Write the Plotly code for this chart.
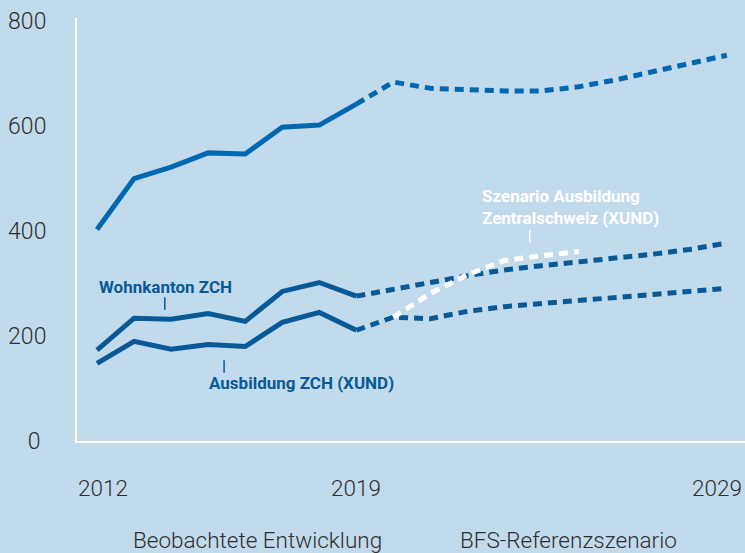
import plotly.graph_objects as go

# ---- data ----
years_obs = [2012, 2013, 2014, 2015, 2016, 2017, 2018, 2019]
years_fc = [2019, 2020, 2021, 2022, 2023, 2024, 2025, 2026, 2027, 2028, 2029]
years_scen = [2020, 2021, 2022, 2023, 2024, 2025]

total_obs = [403, 500, 522, 549, 547, 598, 602, 642]
total_fc = [642, 684, 672, 669, 667, 667, 675, 688, 703, 720, 735]

wohn_obs = [173, 234, 232, 243, 228, 285, 302, 276]
wohn_fc = [276, 290, 302, 315, 326, 334, 341, 348, 356, 365, 377]

ausb_obs = [148, 190, 175, 184, 180, 226, 245, 211]
ausb_fc = [211, 236, 233, 247, 256, 262, 268, 273, 279, 285, 291]

scen = [236, 281, 317, 344, 353, 361]

y_ticks = [0, 200, 400, 600, 800]
y_ticktext = ["0\u2005", "200", "400", "600", "800"]
x_labels = [2012, 2019, 2029]
section_labels = ["Beobachtete Entwicklung", "BFS-Referenzszenario"]

BG = "#c2dbec"
BLUE = "#0068b0"
DARK = "#075a97"
TXT = "#2e2e2e"
FONT = "Roboto"

fig = go.Figure()

dash = "9px,6px"
fig.add_trace(go.Scatter(x=years_fc, y=total_fc, mode="lines",
                         line=dict(color=BLUE, width=5, dash=dash)))
fig.add_trace(go.Scatter(x=years_obs, y=total_obs, mode="lines",
                         line=dict(color=BLUE, width=5)))
fig.add_trace(go.Scatter(x=years_fc, y=wohn_fc, mode="lines",
                         line=dict(color=DARK, width=5, dash=dash)))
fig.add_trace(go.Scatter(x=years_obs, y=wohn_obs, mode="lines",
                         line=dict(color=DARK, width=5)))
fig.add_trace(go.Scatter(x=years_fc, y=ausb_fc, mode="lines",
                         line=dict(color=DARK, width=5, dash=dash)))
fig.add_trace(go.Scatter(x=years_obs, y=ausb_obs, mode="lines",
                         line=dict(color=DARK, width=5)))
fig.add_trace(go.Scatter(x=years_scen, y=scen, mode="lines",
                         line=dict(color="white", width=5, dash=dash)))

# series labels
LBL = 17
fig.add_annotation(x=2012, y=293, xref="x", yref="y", text="<b>Wohnkanton ZCH</b>",
                   showarrow=False, xanchor="left", yanchor="middle",
                   font=dict(family=FONT, size=LBL, color=DARK))
fig.add_shape(type="line", x0=2013.83, x1=2013.83, y0=250, y1=274, xref="x", yref="y",
              line=dict(color=DARK, width=1.5))
fig.add_annotation(x=2014.97, y=110, xref="x", yref="y", text="<b>Ausbildung ZCH (XUND)</b>",
                   showarrow=False, xanchor="left", yanchor="middle",
                   font=dict(family=FONT, size=LBL, color=DARK))
fig.add_shape(type="line", x0=2015.43, x1=2015.43, y0=130, y1=154, xref="x", yref="y",
              line=dict(color=DARK, width=1.5))
fig.add_annotation(x=2022.33, y=446, xref="x", yref="y",
                   text="<b>Szenario Ausbildung<br>Zentralschweiz (XUND)</b>",
                   showarrow=False, xanchor="left", yanchor="middle", align="left",
                   font=dict(family=FONT, size=LBL, color="white"))
fig.add_shape(type="line", x0=2023.68, x1=2023.68, y0=379, y1=402, xref="x", yref="y",
              line=dict(color="white", width=1.5))

# x labels
shifts = [6, 0, -10]
for yr, sh in zip(x_labels, shifts):
    fig.add_annotation(x=yr, y=-0.111, xref="x", yref="paper", text=str(yr),
                       showarrow=False, xanchor="center", yanchor="middle", xshift=sh,
                       font=dict(family=FONT, size=22.5, color=TXT, weight=300))

for lab, px in zip(section_labels, [0.2695, 0.7365]):
    fig.add_annotation(x=px, y=-0.234, xref="paper", yref="paper", text=lab,
                       showarrow=False, xanchor="center", yanchor="middle",
                       font=dict(family=FONT, size=22.5, color=TXT, weight=300))

fig.update_layout(
    width=745, height=553,
    paper_bgcolor=BG, plot_bgcolor=BG,
    margin=dict(l=77, r=0, t=18, b=112),
    showlegend=False,
    xaxis=dict(range=[2011.46, 2029.49], showgrid=False, zeroline=False,
               showticklabels=False, showline=True, linecolor="white", linewidth=2),
    yaxis=dict(range=[0, 806], showgrid=False, zeroline=False,
               tickvals=y_ticks, ticktext=y_ticktext, ticks="",
               ticklabelstandoff=24,
               tickfont=dict(family=FONT, size=23, color=TXT, weight=300),
               showline=True, linecolor="white", linewidth=2),
)

fig.write_html("out.html", config={"displayModeBar": False},
               post_script="document.body.style.margin='0';document.body.style.background='" + BG + "';")
